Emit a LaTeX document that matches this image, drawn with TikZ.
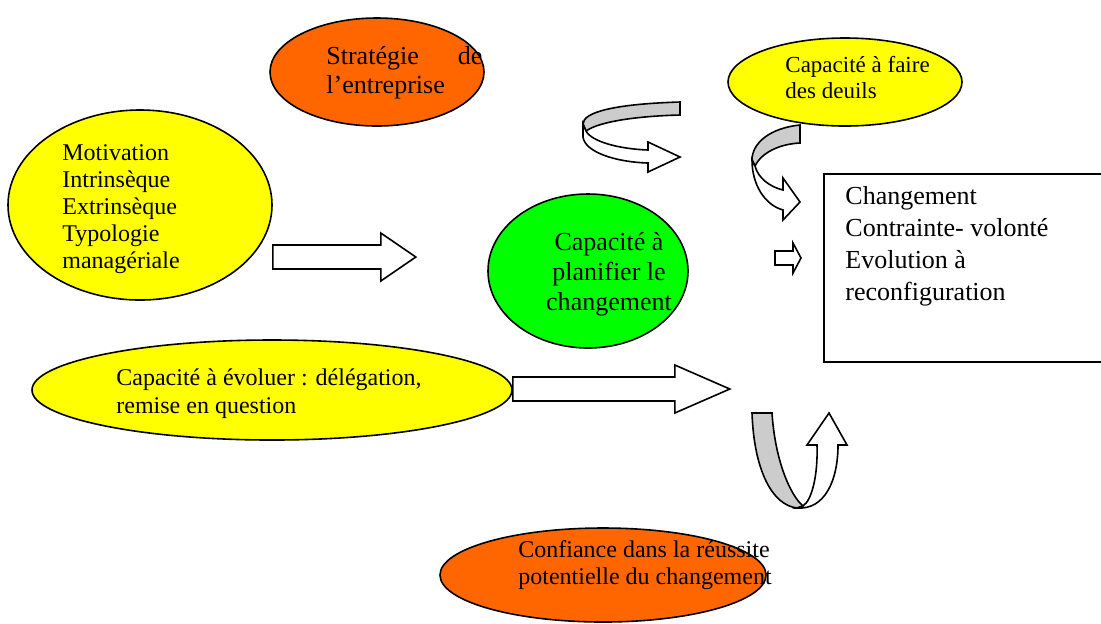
\documentclass[tikz,border=0pt]{standalone}
\usepackage{fontspec}
\setmainfont{Liberation Serif}
\usetikzlibrary{shapes.geometric}
\definecolor{orangefonce}{HTML}{FF6600}
\definecolor{jaune}{HTML}{FFFF00}
\definecolor{vert}{HTML}{00FF00}
\definecolor{grisdos}{HTML}{CCCCCC}
\begin{document}
\begin{tikzpicture}[x=0.5pt,y=-0.5pt]
		\tikzset{bulle/.style={shape = ellipse, draw, line width = 0.8pt, inner sep = 0pt}}
		\tikzset{texte/.style={anchor = base west, align = left, inner sep = 0pt}}
		\tikzset{fleche/.style={draw, fill = white, line width = 0.8pt, line join = miter}}
		\tikzset{dos/.style={draw, fill = grisdos, line width = 0.8pt}}
		\useasboundingbox (0,0) rectangle (1101,623);
		\clip (0,0) rectangle (1101,623);
					%ellipses
					\node[bulle, fill = orangefonce, minimum width = 214pt*0.5, minimum height = 108pt*0.5] (strat) at (377,72) {};
					\node[bulle, fill = jaune, minimum width = 234pt*0.5, minimum height = 88pt*0.5] (deuil) at (845,82) {};
					\node[bulle, fill = jaune, minimum width = 264pt*0.5, minimum height = 190pt*0.5] (motiv) at (140,205) {};
					\node[bulle, fill = vert, minimum width = 200pt*0.5, minimum height = 154pt*0.5] (plan) at (588,271) {};
					\node[bulle, fill = jaune, minimum width = 480pt*0.5, minimum height = 100pt*0.5] (evol) at (272,390) {};
					\node[bulle, fill = orangefonce, minimum width = 326pt*0.5, minimum height = 94pt*0.5] (conf) at (603,575) {};
					%box
					\node[draw, line width = 0.8pt, anchor = north west, minimum width = 290pt*0.5, minimum height = 188pt*0.5, inner sep = 0pt] (chg) at (823,173) {};
					%texts (placed by the baseline of their last line)
					\node[texte, text width = 78pt, font = \fontsize{13}{14}\selectfont] (strat-t) at (326,64) {Stratégie \hfill de\\[0.5pt]l’entreprise};
					\node[texte, font = \fontsize{11.5}{12.75}\selectfont] (deuil-t) at (785,98) {Capacité à faire\\des deuils};
					\node[texte, font = \fontsize{12}{13.5}\selectfont] (motiv-t) at (62,268) {Motivation\\Intrinsèque\\Extrinsèque\\Typologie\\managériale};
					\node[anchor = base, align = center, inner sep = 0pt, font = \fontsize{13}{15}\selectfont] (plan-t) at (609,310) {Capacité à\\planifier le\\changement};
					\node[texte, font = \fontsize{12}{14}\selectfont] (evol-t) at (116,413) {Capacité à évoluer : délégation,\\remise en question};
					\node[texte, font = \fontsize{12}{13.5}\selectfont] (conf-t) at (518,584) {Confiance dans la réussite\\potentielle du changement};
					\node[texte, font = \fontsize{13}{16}\selectfont] (chg-t) at (845,300) {Changement\\Contrainte- volonté\\Evolution à\\reconfiguration};
					%straight arrows
					\path[fleche] (motiv.east) ++(0,40) coordinate (a1) (a1) -- ++(108,0) -- ++(0,-12) -- ++(35,24) -- ++(-35,24) -- ++(0,-12) -- ++(-108,0) -- cycle;
					\path[fleche] (evol.east) ++(0,-13) coordinate (a2) (a2) -- ++(162,0) -- ++(0,-12) -- ++(55,24) -- ++(-55,24) -- ++(0,-12) -- ++(-162,0) -- cycle;
					\path[fleche] (775,251) -- (793,251) -- (793,243) -- (801,258) -- (793,273) -- (793,265) -- (775,265) -- cycle;
					%curved arrows
					\path[dos] (680,102) .. controls (615,104) and (583,112) .. (583,124) -- (586,131) .. controls (600,121) and (640,116) .. (680,115) -- cycle;
					\path[fleche] (583,124) -- (583,137) .. controls (585,152) and (615,162) .. (648,163) -- (648,172) -- (680,157) -- (648,142) -- (648,150) .. controls (620,149) and (592,142) .. (586,131) -- cycle;
					\path[dos] (800,125) .. controls (770,128) and (752,143) .. (752,160) -- (755,166) .. controls (762,152) and (780,144) .. (800,143) -- cycle;
					\path[fleche] (752,160) .. controls (752,185) and (765,205) .. (783,210) -- (783,220) -- (800,202) -- (783,178) -- (783,190) .. controls (770,187) and (758,178) .. (755,166) -- cycle;
					\path[dos] (752,413) -- (772,413) .. controls (775,460) and (790,495) .. (803,506) -- (797,508) .. controls (772,505) and (754,470) .. (752,413) -- cycle;
					\path[fleche] (797,508) .. controls (825,510) and (838,480) .. (838,445) -- (847,445) -- (829,413) -- (807,445) -- (817,445) .. controls (818,475) and (812,500) .. (803,506) -- cycle;
\end{tikzpicture}
\end{document}
